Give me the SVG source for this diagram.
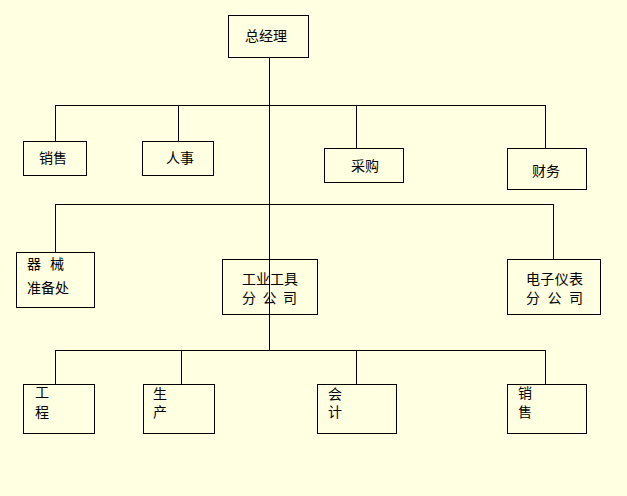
<svg xmlns="http://www.w3.org/2000/svg" width="627" height="496" viewBox="0 0 627 496">
<style>
.box{fill:none;stroke:#000;stroke-width:1}
.ln{stroke:#000;stroke-width:1;fill:none}
text{font-family:"Liberation Sans","Noto Sans CJK SC",sans-serif;font-size:14px;fill:#000}
</style>
<rect x="0" y="0" width="627" height="496" fill="#FFFFE1"/>
<g id="connectors" class="ln">
<path d="M269.5 57V350"/>
<path d="M55.5 105.5H545.5M55.5 105V141M178.5 105V141M356.5 105V148M545.5 105V148"/>
<path d="M55.5 204.5H553.5M55.5 204V252M553.5 204V259"/>
<path d="M55.5 350.5H545.5M55.5 350V384M181.5 350V384M356.5 350V384M545.5 350V384"/>
</g>
<g id="n-zjl"><rect class="box" x="228.5" y="15.5" width="80" height="42"/><text x="266" y="41" text-anchor="middle">总经理</text></g>
<g id="n-xs1"><rect class="box" x="23.5" y="141.5" width="63" height="34"/><text x="53" y="163" text-anchor="middle">销售</text></g>
<g id="n-rs"><rect class="box" x="142.5" y="141.5" width="71" height="34"/><text x="180" y="163" text-anchor="middle">人事</text></g>
<g id="n-cg"><rect class="box" x="324.5" y="148.5" width="79" height="34"/><text x="365" y="171" text-anchor="middle">采购</text></g>
<g id="n-cw"><rect class="box" x="507.5" y="148.5" width="79" height="41"/><text x="546" y="176" text-anchor="middle">财务</text></g>
<g id="n-qx"><rect class="box" x="16.5" y="252.5" width="78" height="55"/><text x="27" y="269" textLength="37" lengthAdjust="spacing">器 械</text><text x="27" y="293">准备处</text></g>
<g id="n-gy"><rect class="box" x="222.5" y="259.5" width="95" height="55"/><text x="242" y="284" textLength="56" lengthAdjust="spacing">工业工具</text><text x="242" y="303" textLength="55" lengthAdjust="spacing">分 公 司</text></g>
<g id="n-dz"><rect class="box" x="507.5" y="259.5" width="93" height="55"/><text x="526" y="284" textLength="57" lengthAdjust="spacing">电子仪表</text><text x="526" y="303" textLength="57" lengthAdjust="spacing">分 公 司</text></g>
<g id="n-gc"><rect class="box" x="23.5" y="384.5" width="71" height="49"/><text x="35" y="397">工</text><text x="35" y="417">程</text></g>
<g id="n-sc"><rect class="box" x="143.5" y="384.5" width="71" height="49"/><text x="153" y="399">生</text><text x="153" y="417">产</text></g>
<g id="n-kj"><rect class="box" x="317.5" y="384.5" width="79" height="49"/><text x="328" y="399">会</text><text x="328" y="417">计</text></g>
<g id="n-xs2"><rect class="box" x="507.5" y="384.5" width="79" height="49"/><text x="518" y="398">销</text><text x="518" y="417">售</text></g>
</svg>
